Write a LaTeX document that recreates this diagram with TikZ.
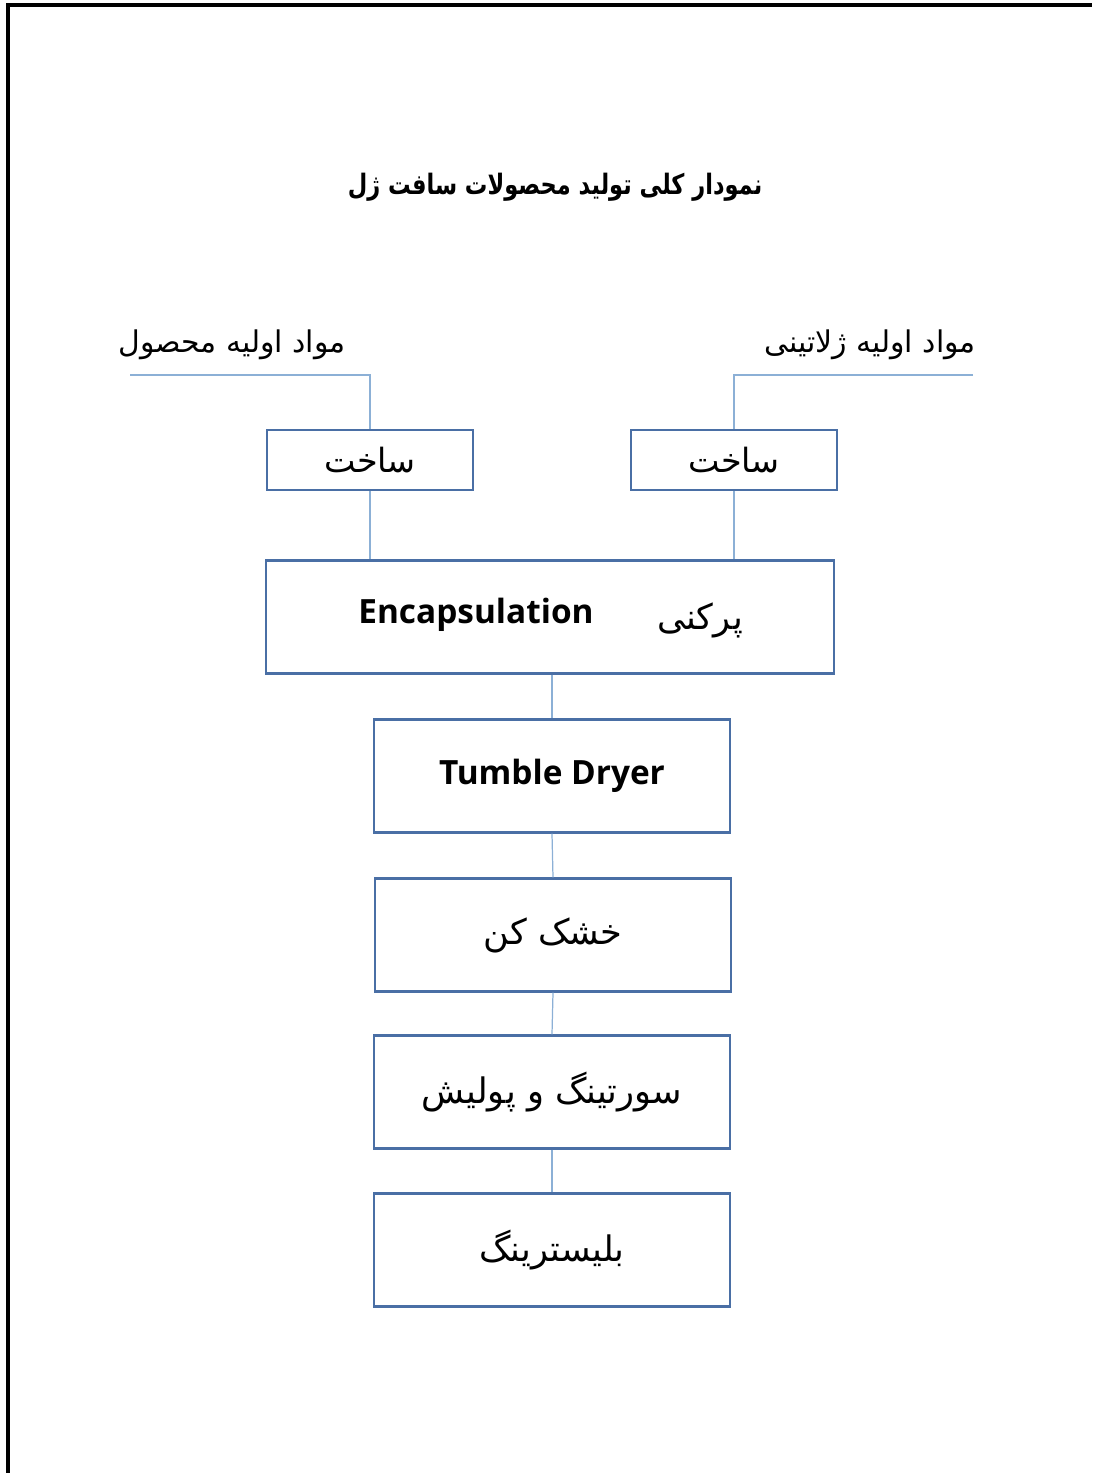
\documentclass[tikz,border=0pt]{standalone}
\usepackage{fontspec}
\setmainfont{Open Sans}
\newfontfamily\arabicfont[Script=Arabic]{DejaVu Sans}
\TeXXeTstate=1
\usetikzlibrary{positioning}
\definecolor{boxblue}{HTML}{4A6FA5}
\definecolor{lineblue}{HTML}{8CB0D6}

\tikzset{
  stage/.style={draw=boxblue,line width=0.6pt,rectangle,minimum width=35.6mm,minimum height=11.3mm,font=\arabicfont\fontsize{10}{12}\selectfont},
  make/.style={stage,minimum width=20.6mm,minimum height=6mm,font=\arabicfont\fontsize{9.5}{12}\selectfont},
  wire/.style={draw=lineblue,line width=0.35pt},
  fa/.style={font=\arabicfont\fontsize{8.5}{10}\selectfont,inner sep=0pt},
  en/.style={font=\bfseries\fontsize{9.5}{12}\selectfont}
}

\begin{document}
\begin{tikzpicture}[x=0.1mm,y=-0.1mm]
  \useasboundingbox (0,0) rectangle (1092,1473);
  % frame
  \draw[line width=1.3pt] (8,1473) -- (8,5) -- (1092,5);

  % title
  \node[fa,font=\arabicfont\bfseries\fontsize{8}{10}\selectfont] (title) at (555,187) {\scalebox{0.8}[1]{\beginR نمودار کلی تولید محصولات سافت ژل\endR}};

  % raw materials
  \node[fa] (lraw) at (232,345) {\beginR مواد اولیه محصول\endR};
  \node[fa] (rraw) at (870,345) {\beginR مواد اولیه ژلاتینی\endR};
  \coordinate (lin) at (130,375);
  \coordinate (rin) at (973,375);

  % boxes
  \node[make] (lmake) at (370,460) {\beginR ساخت\endR};
  \node[make] (rmake) at (734,460) {\beginR ساخت\endR};
  \node[stage,minimum width=56.8mm] (encap) at (550,617) {};
  \node[en] (encapen) at (476,615) {Encapsulation};
  \node[stage,draw=none,minimum width=0pt,minimum height=0pt] (encapfa) at (700,620) {\beginR پرکنی\endR};
  \node[stage,en] (tumble) at (552,776) {Tumble Dryer};
  \node[stage] (dry) at (553,935) {\beginR خشک کن\endR};
  \node[stage] (sort) at (552,1092) {\beginR سورتینگ و پولیش\endR};
  \node[stage] (blister) at (552,1250) {\beginR بلیسترینگ\endR};

  % connectors
  \draw[wire] (lin) -| (lmake.north);
  \draw[wire] (rin) -| (rmake.north);
  \draw[wire] (lmake.south) -- (lmake.south |- encap.north);
  \draw[wire] (rmake.south) -- (rmake.south |- encap.north);
  \draw[wire] (encap.south -| tumble.north) -- (tumble.north);
  \foreach \a/\b in {tumble/dry,dry/sort,sort/blister}{% one line per step
    \draw[wire] (\a.south) -- (\b.north);}
\end{tikzpicture}
\end{document}
